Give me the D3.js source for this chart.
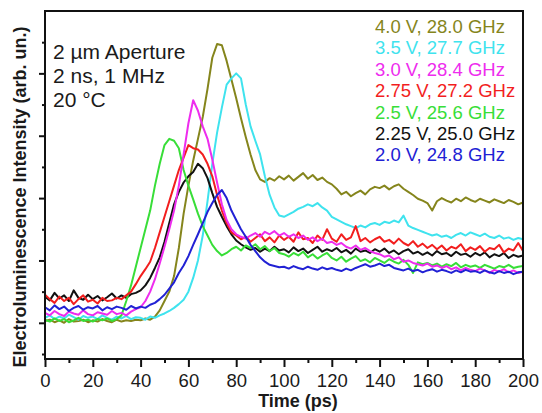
<!DOCTYPE html>
<html>
<head>
<meta charset="utf-8">
<script src="https://cdn.jsdelivr.net/npm/d3@7"></script>
<style>
  html, body { margin: 0; padding: 0; background: #fff; }
  svg { display: block; font-family: "Liberation Sans", Arial, Helvetica, sans-serif; }
</style>
</head>
<body>
<svg id="chart" width="542" height="413"></svg>
<script>
// Time-resolved electroluminescence, sampled every 2 ps from 0 to 200 ps
const timesPs = d3.range(0, 201, 2);

const seriesLabels = [
  "4.0 V, 28.0 GHz", "3.5 V, 27.7 GHz", "3.0 V, 28.4 GHz", "2.75 V, 27.2 GHz",
  "2.5 V, 25.6 GHz", "2.25 V, 25.0 GHz", "2.0 V, 24.8 GHz"
];
const seriesColors = ["#85851c", "#3fe3ee", "#ee2cee", "#f21e1e", "#38de38", "#111111", "#2121d4"];

const olive40 = [
  0.03,0.05,0.01,0.04,0.00,0.06,0.02,0.03,0.05,0.01,
  0.04,0.02,0.06,0.03,0.01,0.05,0.02,0.04,0.03,0.05,
  0.04,0.07,0.05,0.10,0.20,0.35,0.50,0.75,1.20,1.75,
  2.20,2.60,2.95,3.30,3.75,4.25,4.47,4.45,4.20,3.90,
  3.60,3.28,2.98,2.70,2.45,2.30,2.26,2.32,2.28,2.35,
  2.30,2.36,2.28,2.34,2.40,2.31,2.37,2.29,2.33,2.26,
  2.22,2.15,2.06,2.10,2.03,2.08,2.12,2.06,2.14,2.18,
  2.16,2.20,2.14,2.19,2.22,2.15,2.10,2.05,1.99,1.96,
  1.92,1.80,1.95,2.00,1.96,1.93,1.99,1.95,2.01,1.97,
  1.94,1.99,1.96,1.93,1.98,1.95,1.92,1.97,1.94,1.90,1.93
];
const cyan35 = [
  0.08,0.12,0.06,0.10,0.07,0.13,0.09,0.05,0.11,0.08,
  0.10,0.06,0.12,0.08,0.05,0.10,0.07,0.11,0.06,0.09,
  0.08,0.05,0.10,0.08,0.12,0.15,0.19,0.24,0.30,0.37,
  0.50,0.72,1.00,1.40,1.95,2.55,3.05,3.45,3.82,3.92,
  4.00,3.92,3.50,3.15,2.92,2.70,2.35,2.05,1.85,1.72,
  1.70,1.74,1.78,1.83,1.86,1.90,1.87,1.92,1.85,1.80,
  1.70,1.66,1.62,1.58,1.55,1.52,1.56,1.53,1.58,1.60,
  1.57,1.62,1.60,1.64,1.61,1.72,1.56,1.52,1.49,1.46,
  1.43,1.40,1.42,1.38,1.40,1.36,1.41,1.44,1.40,1.45,
  1.42,1.39,1.43,1.38,1.36,1.40,1.35,1.37,1.33,1.36,1.34
];
const magenta30 = [
  0.16,0.12,0.19,0.14,0.11,0.18,0.15,0.13,0.20,0.14,
  0.12,0.17,0.15,0.13,0.19,0.14,0.16,0.12,0.18,0.22,
  0.25,0.35,0.50,0.70,0.95,1.22,1.50,1.80,2.20,2.70,
  3.20,3.57,3.40,3.15,2.95,2.62,2.25,1.90,1.65,1.50,
  1.42,1.38,1.35,1.40,1.44,1.38,1.46,1.42,1.47,1.40,
  1.44,1.38,1.42,1.36,1.40,1.33,1.37,1.31,1.35,1.28,
  1.30,1.25,1.28,1.22,1.19,1.24,1.17,1.20,1.15,1.12,
  1.10,1.06,1.08,1.02,1.05,0.98,1.00,0.96,0.94,0.92,
  0.95,0.90,0.92,0.88,0.91,0.86,0.89,0.84,0.88,0.85,
  0.83,0.87,0.84,0.80,0.85,0.82,0.86,0.81,0.84,0.80,0.82
];
const red275 = [
  0.45,0.38,0.32,0.42,0.35,0.40,0.30,0.38,0.44,0.34,
  0.37,0.31,0.40,0.35,0.36,0.40,0.38,0.44,0.50,0.62,
  0.75,0.86,0.98,1.20,1.45,1.70,1.95,2.20,2.45,2.65,
  2.85,2.80,2.78,2.70,2.55,2.35,2.05,1.80,1.60,1.45,
  1.40,1.34,1.38,1.30,1.36,1.42,1.31,1.37,1.29,1.40,
  1.33,1.38,1.30,1.45,1.34,1.36,1.28,1.40,1.33,1.50,
  1.35,1.30,1.42,1.33,1.37,1.55,1.31,1.36,1.29,1.34,
  1.38,1.30,1.33,1.27,1.35,1.28,1.24,1.31,1.22,1.27,
  1.20,1.25,1.18,1.24,1.16,1.22,1.19,1.26,1.15,1.21,
  1.17,1.23,1.14,1.20,1.18,1.25,1.13,1.19,1.16,1.28,1.15
];
const green25 = [
  0.05,0.02,0.07,0.03,0.06,0.01,0.04,0.08,0.03,0.05,
  0.02,0.06,0.04,0.07,0.03,0.06,0.12,0.35,0.60,0.90,
  1.20,1.50,1.80,2.20,2.55,2.85,2.95,2.92,2.80,2.45,
  2.20,1.98,1.75,1.55,1.40,1.25,1.15,1.08,1.12,1.18,
  1.22,1.16,1.24,1.20,1.26,1.18,1.23,1.15,1.20,1.12,
  1.10,1.06,1.12,1.08,1.14,1.05,1.10,1.03,1.08,1.12,
  1.04,1.00,1.06,0.98,1.03,1.07,0.99,1.02,0.97,1.04,
  1.00,0.96,1.02,0.98,0.95,1.01,0.93,0.80,0.97,0.94,
  0.96,0.92,0.95,0.90,0.94,0.91,0.96,0.89,0.93,0.90,
  0.92,0.88,0.93,0.90,0.87,0.91,0.89,0.93,0.88,0.90,0.91
];
const black225 = [
  0.42,0.36,0.48,0.39,0.44,0.35,0.52,0.40,0.37,0.45,
  0.38,0.43,0.36,0.41,0.47,0.39,0.44,0.40,0.46,0.48,
  0.52,0.60,0.72,0.88,1.05,1.30,1.60,1.90,2.10,2.25,
  2.35,2.42,2.55,2.48,2.32,2.08,1.86,1.70,1.55,1.42,
  1.32,1.26,1.21,1.17,1.20,1.14,1.19,1.15,1.22,1.16,
  1.18,1.13,1.21,1.15,1.19,1.12,1.17,1.22,1.14,1.18,
  1.15,1.20,1.13,1.17,1.11,1.19,1.14,1.16,1.12,1.18,
  1.14,1.19,1.12,1.16,1.10,1.15,1.18,1.11,1.14,1.09,
  1.13,1.08,1.15,1.10,1.12,1.07,1.14,1.09,1.11,1.06,
  1.12,1.08,1.13,1.05,1.10,1.07,1.12,1.04,1.09,1.06,1.08
];
const blue20 = [
  0.25,0.20,0.28,0.22,0.26,0.19,0.24,0.27,0.21,0.25,
  0.23,0.27,0.20,0.25,0.22,0.26,0.24,0.21,0.27,0.23,
  0.26,0.24,0.29,0.32,0.38,0.45,0.55,0.65,0.80,0.92,
  1.07,1.25,1.42,1.60,1.78,1.92,2.05,2.13,2.00,1.80,
  1.65,1.50,1.38,1.25,1.15,1.05,0.98,0.93,0.91,0.89,
  0.90,0.87,0.91,0.88,0.86,0.90,0.87,0.85,0.89,0.86,
  0.88,0.85,0.83,0.87,0.84,0.88,0.91,0.94,0.90,0.92,
  0.95,0.91,0.93,0.88,0.86,0.84,0.87,0.83,0.85,0.81,
  0.84,0.86,0.82,0.85,0.83,0.80,0.84,0.81,0.85,0.82,
  0.83,0.80,0.84,0.81,0.79,0.83,0.80,0.82,0.78,0.81,0.82
];

const seriesValues = [olive40, cyan35, magenta30, red275, green25, black225, blue20];

const xMajorTicks = [0, 20, 40, 60, 80, 100, 120, 140, 160, 180, 200];
const xMinorTicks = [10, 30, 50, 70, 90, 110, 130, 150, 170, 190];
const yMajorTicks = [0, 1, 2, 3, 4];
const yMinorTicks = [-0.5, 0.5, 1.5, 2.5, 3.5, 4.5];

const conditionLines = ["2 \u00b5m Aperture", "2 ns, 1 MHz", "20 \u00b0C"];

// ---- layout ----
const svg = d3.select("#chart");
const plot = { left: 45, right: 523, top: 11, bottom: 359 };

const x = d3.scaleLinear().domain([0, 200]).range([plot.left, plot.right]);
const y = d3.scaleLinear().domain([-0.58, 5.0]).range([plot.bottom, plot.top]);

// traces (drawn under the frame)
const line = d3.line().x((d, i) => x(timesPs[i])).y(d => y(d));
const drawOrder = [0, 1, 5, 4, 3, 2, 6];
const traces = svg.append("g").attr("class", "traces");
drawOrder.forEach(k => {
  traces.append("path")
    .datum(seriesValues[k])
    .attr("fill", "none")
    .attr("stroke", seriesColors[k])
    .attr("stroke-width", 2)
    .attr("stroke-linejoin", "round")
    .attr("d", line);
});

// x axis: labelled major ticks and short minor ticks
const xAxisMajor = d3.axisBottom(x).tickValues(xMajorTicks).tickSize(8).tickSizeOuter(0).tickPadding(7).tickFormat(d3.format("d"));
const xAxisMinor = d3.axisBottom(x).tickValues(xMinorTicks).tickSize(4).tickSizeOuter(0).tickFormat("");
const gx = svg.append("g").attr("transform", `translate(0,${plot.bottom})`).call(xAxisMajor);
const gxm = svg.append("g").attr("transform", `translate(0,${plot.bottom})`).call(xAxisMinor);
[gx, gxm].forEach(g => {
  g.select(".domain").remove();
  g.selectAll(".tick line").attr("stroke", "#111").attr("stroke-width", 2);
});
gx.selectAll(".tick text")
  .attr("fill", "#1a1a1a")
  .style("font-size", "18.5px")
  .style("font-family", '"Liberation Sans", Arial, sans-serif');

// y axis: unlabelled ticks only
const yAxisMajor = d3.axisLeft(y).tickValues(yMajorTicks).tickSize(6).tickSizeOuter(0).tickFormat("");
const yAxisMinor = d3.axisLeft(y).tickValues(yMinorTicks).tickSize(3).tickSizeOuter(0).tickFormat("");
[yAxisMajor, yAxisMinor].forEach(ax => {
  const g = svg.append("g").attr("transform", `translate(${plot.left},0)`).call(ax);
  g.select(".domain").remove();
  g.selectAll(".tick line").attr("stroke", "#111").attr("stroke-width", 2);
});

// frame
svg.append("rect")
  .attr("x", plot.left).attr("y", plot.top)
  .attr("width", plot.right - plot.left).attr("height", plot.bottom - plot.top)
  .attr("fill", "none").attr("stroke", "#111").attr("stroke-width", 2);

// axis titles
svg.append("text")
  .attr("x", 298).attr("y", 407)
  .attr("text-anchor", "middle")
  .attr("font-weight", "bold").attr("font-size", 18).attr("fill", "#1a1a1a")
  .text("Time (ps)");
svg.append("text")
  .attr("transform", "translate(26,197) rotate(-90)")
  .attr("text-anchor", "middle")
  .attr("font-weight", "bold").attr("font-size", 18).attr("fill", "#1a1a1a")
  .text("Electroluminescence Intensity (arb. un.)");

// measurement conditions
svg.append("g").selectAll("text")
  .data(conditionLines).join("text")
  .attr("x", 53).attr("y", (d, i) => 59 + i * 24)
  .attr("font-size", 21).attr("fill", "#1a1a1a")
  .text(d => d);

// legend: coloured labels
svg.append("g").selectAll("text")
  .data(seriesLabels).join("text")
  .attr("x", 375).attr("y", (d, i) => 33 + i * 21.4)
  .attr("font-size", 18.5)
  .attr("fill", (d, i) => seriesColors[i])
  .text(d => d);
</script>
</body>
</html>
